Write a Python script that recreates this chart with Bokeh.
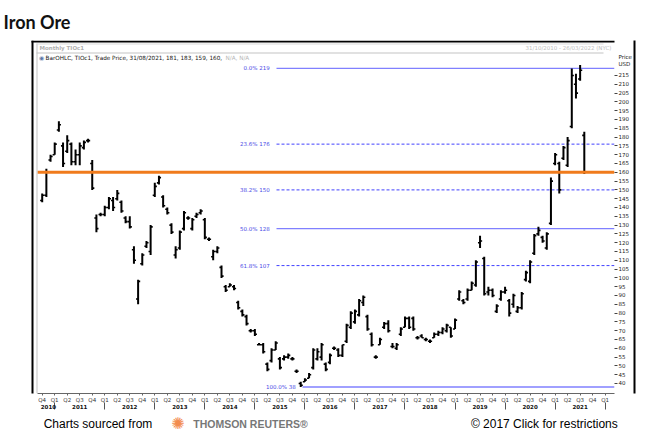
import pandas as pd
from bokeh.plotting import figure
from bokeh.models import Range1d, LinearAxis, FixedTicker, Label, BoxAnnotation, ColumnDataSource
from bokeh.transform import dodge
from bokeh.core.properties import value
from bokeh.embed import file_html
from bokeh.resources import INLINE

# ---------------- data ----------------
first_month = "2010-10"
last_month = "2021-08"
axis_last_month = "2022-01"

opens = [144, 147, 167, 170, 184, 175, 172, 176, 166, 170,
         174, 178, 165, 134, 136, 136, 140, 144, 145, 143,
         134, 132, 116, 88, 108, 118, 115, 147, 154, 146,
         139, 130, 113, 117, 128, 134, 128, 135, 137, 133,
         122, 112, 115, 106, 95, 95, 95, 86, 81, 78,
         70, 70, 62, 62, 51, 53, 59, 54, 54, 55,
         54, 47, 40, 41, 43, 49, 54, 55, 51, 52,
         60, 59, 56, 64, 72, 75, 79, 86, 78, 68,
         55, 62, 72, 74, 61, 60, 68, 72, 77, 77,
         66, 67, 65, 64, 66, 68, 69, 70, 72, 71,
         88, 87, 88, 93, 96, 120, 111, 92, 93, 81,
         88, 92, 87, 85, 81, 83, 99, 98, 114, 125,
         123, 117, 131, 165, 165, 168, 164, 186, 210, 213,
         181]
highs = [148, 162, 170, 177, 189, 177, 181, 177, 173, 177,
         178, 179, 167, 136, 137, 141, 146, 146, 150, 144,
         135, 135, 118, 99, 114, 121, 130, 154, 158, 147,
         140, 131, 118, 127, 138, 135, 134, 137, 139, 134,
         123, 116, 118, 107, 96, 97, 96, 87, 82, 79,
         71, 71, 63, 63, 52, 60, 64, 55, 56, 57,
         55, 48, 41, 43, 46, 60, 60, 63, 52, 57,
         61, 60, 62, 74, 81, 82, 88, 90, 79, 69,
         56, 66, 75, 76, 63, 63, 72, 78, 78, 78,
         67, 68, 66, 65, 69, 70, 72, 74, 72, 77,
         93, 88, 94, 98, 110, 124, 112, 95, 94, 85,
         93, 95, 88, 91, 84, 92, 104, 110, 125, 129,
         124, 126, 157, 171, 166, 175, 180, 219, 216, 221,
         183]
lows = [143, 146, 166, 170, 183, 163, 171, 164, 164, 164,
        173, 177, 150, 126, 135, 135, 139, 138, 144, 137,
        131, 128, 108, 85, 107, 117, 113, 146, 153, 140,
        136, 125, 111, 116, 127, 133, 127, 134, 136, 122,
        121, 110, 114, 100, 92, 95, 93, 82, 78, 73,
        69, 67, 62, 57, 47, 52, 59, 48, 53, 54,
        53, 46, 38, 41, 43, 48, 53, 53, 47, 51,
        59, 55, 55, 63, 71, 74, 78, 84, 70, 61,
        54, 62, 71, 69, 60, 59, 67, 72, 71, 70,
        65, 66, 64, 63, 66, 67, 68, 69, 66, 71,
        87, 85, 87, 93, 95, 117, 90, 90, 89, 80,
        87, 91, 78, 83, 80, 82, 98, 97, 113, 124,
        120, 116, 130, 164, 148, 167, 163, 185, 202, 212,
        159]
closes = [147, 160, 169, 176, 187, 165, 178, 166, 170, 175,
          177, 178, 151, 128, 136, 140, 145, 140, 148, 138,
          132, 129, 110, 98, 113, 120, 129, 152, 157, 141,
          137, 126, 116, 126, 137, 134, 133, 136, 138, 123,
          122, 115, 117, 101, 93, 96, 94, 83, 79, 74,
          70, 68, 62, 58, 48, 59, 63, 49, 55, 56,
          54, 47, 39, 42, 45, 59, 58, 62, 48, 56,
          60, 56, 62, 73, 80, 81, 87, 89, 71, 62,
          55, 65, 74, 70, 61, 62, 71, 77, 72, 71,
          66, 66, 65, 64, 68, 69, 71, 73, 67, 76,
          92, 86, 93, 97, 109, 121, 91, 93, 90, 84,
          92, 93, 80, 90, 83, 91, 103, 109, 124, 127,
          121, 125, 155, 170, 150, 174, 178, 215, 205, 218,
          160]

fib_pct = ["0.0%", "23.6%", "38.2%", "50.0%", "61.8%", "100.0%"]
fib_levels = [219, 176, 150, 128, 107, 38]
fib_dashed = [False, True, True, False, True, False]
last_price = 160
y_tick_values = list(range(40, 220, 5))

title_text = "Iron Ore"
series_text = "Monthly TIOc1"
range_text = "31/10/2010 - 26/03/2022 (NYC)"
legend_text = "BarOHLC, TIOc1, Trade Price, 31/08/2021, 181, 183, 159, 160,"
legend_na = "N/A, N/A"
price_unit = ["Price", "USD"]
footer_left = "Charts sourced from"
footer_brand = "THOMSON REUTERS\u00ae"
footer_right = "\u00a9 2017  Click for restrictions"

# ---------------- derived axis info ----------------
months = pd.period_range(first_month, last_month, freq="M")
idx = list(range(len(months)))
axis_months = pd.period_range(first_month, axis_last_month, freq="M")
q_ticks = [i for i, m in enumerate(axis_months) if m.month in (1, 4, 7, 10)]
q_labels = {i: "Q%d" % ((axis_months[i].month - 1) // 3 + 1) for i in q_ticks}
jan_ticks = [i for i, m in enumerate(axis_months) if m.month == 1]
years = sorted(set(m.year for m in axis_months if m.year < axis_months[-1].year))
bounds = [0] + jan_ticks
year_centers = [(bounds[k] + bounds[k + 1]) / 2 for k in range(len(years))]
year_labels = {c: str(y) for c, y in zip(year_centers, years)}

# ---------------- layout geometry (pixels) ----------------
W, H = 645, 439
FRAME_TOP, FRAME_RIGHT, FRAME_BOTTOM = 40, 614, 393
PX0, PX_PER_MONTH = 41.7, 4.17           # x pixel of first bar, pixels per month
PY215, PX_PER_UNIT = 75.0, 1.76           # y pixel of price 215, pixels per USD


def px2i(px):
    return round((px - PX0) / PX_PER_MONTH, 3)


def py2v(py):
    return round(215 - (py - PY215) / PX_PER_UNIT, 3)


X0, X1 = px2i(0), px2i(FRAME_RIGHT)
XL = px2i(37)
p = figure(width=W, height=H, output_backend="svg", toolbar_location=None,
           x_range=Range1d(X0, X1), y_range=Range1d(py2v(FRAME_BOTTOM), py2v(FRAME_TOP)),
           y_axis_location="right",
           min_border_left=0, min_border_right=W - FRAME_RIGHT,
           min_border_top=FRAME_TOP, min_border_bottom=H - FRAME_BOTTOM)
p.grid.visible = False
p.outline_line_color = None
p.background_fill_color = "white"
p.border_fill_color = "white"

p.title.text = title_text
p.title.text_font = "Lato"
p.title.text_font_style = "bold"
p.title.text_font_size = "18px"
p.title.text_color = "#111111"
p.title.align = "left"
p.title.offset = 3
p.title.standoff = 15

TICK_FONT = "DejaVu Sans"

# right price axis: labels on major ticks, tick marks drawn as minor ticks
price_ticks = [py2v(56), py2v(64)]
ya = p.yaxis[0]
ya.axis_label = None
ya.ticker = FixedTicker(ticks=y_tick_values + price_ticks, minor_ticks=y_tick_values)
ya.major_label_overrides = {t: s for t, s in zip(price_ticks, price_unit)}
ya.axis_line_color = None
ya.major_tick_in = 0
ya.major_tick_out = 3
ya.major_tick_line_color = None
ya.minor_tick_in = 0
ya.minor_tick_out = 3
ya.minor_tick_line_color = "#444"
ya.major_label_standoff = 1
ya.major_label_text_font = TICK_FONT
ya.major_label_text_font_size = "5.5px"
ya.major_label_text_color = "#222"

# right panel border
border_axis = LinearAxis(ticker=FixedTicker(ticks=[]), axis_line_color="black", axis_line_width=2,
                         major_tick_line_color=None, minor_tick_line_color=None,
                         major_label_standoff=0)
p.add_layout(border_axis, "right")

xa = p.xaxis[0]
xa.axis_label = None
xa.bounds = (XL, X1)
xa.ticker = FixedTicker(ticks=q_ticks)
xa.major_label_overrides = q_labels
xa.axis_line_color = "#666"
xa.major_tick_in = 0
xa.major_tick_out = 2
xa.major_tick_line_color = "#666"
xa.minor_tick_line_color = None
xa.major_label_standoff = 1
xa.major_label_text_font = TICK_FONT
xa.major_label_text_font_size = "5.5px"
xa.major_label_text_color = "#333"

yr = LinearAxis(ticker=FixedTicker(ticks=year_centers, minor_ticks=jan_ticks),
                major_label_overrides=year_labels)
yr.axis_line_color = None
yr.major_tick_line_color = None
yr.major_tick_out = 0
yr.major_tick_in = 0
yr.minor_tick_in = 3
yr.minor_tick_out = 4
yr.minor_tick_line_color = "#555"
yr.major_label_standoff = -6
yr.major_label_text_font = TICK_FONT
yr.major_label_text_font_size = "5.5px"
yr.major_label_text_font_style = "bold"
yr.major_label_text_color = "#111"
p.add_layout(yr, "below")


def footer_axis(ticks, labels, font, size, color, style, standoff):
    ax = LinearAxis(ticker=FixedTicker(ticks=ticks),
                    major_label_overrides={t: s for t, s in zip(ticks, labels)})
    ax.axis_line_color = None
    ax.major_tick_line_color = None
    ax.minor_tick_line_color = None
    ax.major_tick_out = 0
    ax.major_tick_in = 0
    ax.minor_tick_out = 0
    ax.minor_tick_in = 0
    ax.major_label_standoff = standoff
    ax.major_label_text_font = font
    ax.major_label_text_font_size = size
    ax.major_label_text_color = color
    ax.major_label_text_font_style = style
    p.add_layout(ax, "below")


footer_axis([px2i(97.5), px2i(545.5)], [footer_left, footer_right],
            "Liberation Sans", "12px", "#000000", "normal", 5)
footer_axis([px2i(250)], [footer_brand], "Liberation Sans", "10.5px", "#777777", "bold", -16)
footer_axis([px2i(177.5)], ["\u273a"], "DejaVu Sans", "16px", "#f28c4e", "normal", -20)

# ---------------- fib lines ----------------
FIB_X0 = px2i(276)
FIB_X0_LOW = px2i(302)
low_level = min(fib_levels)
for lvl, dashed in zip(fib_levels, fib_dashed):
    x0 = FIB_X0_LOW if lvl == low_level else FIB_X0
    p.segment(x0=x0, y0=lvl, x1=X1, y1=lvl,
              line_color="#4040ff" if dashed else "#8080ff",
              line_width=1 if dashed else 1.3,
              line_dash="3 2" if dashed else "solid")
fib_src = ColumnDataSource(dict(
    x=[(FIB_X0_LOW if l == low_level else FIB_X0) - 0.8 for l in fib_levels],
    y=fib_levels,
    t=["%s   %d" % (pc, l) for pc, l in zip(fib_pct, fib_levels)]))
p.text(x="x", y="y", text="t", source=fib_src, text_align="right", text_baseline="middle",
       text_font=value(TICK_FONT), text_font_size="5.5px", text_color="#4b4be6")

# ---------------- OHLC bars ----------------
src = ColumnDataSource(dict(x=idx, o=opens, h=highs, l=lows, c=closes))
p.segment(x0="x", y0="l", x1="x", y1="h", source=src, line_color="black", line_width=2)
p.segment(x0=dodge("x", -0.5), y0="o", x1="x", y1="o", source=src, line_color="black", line_width=1.6)
p.segment(x0="x", y0="c", x1=dodge("x", 0.5), y1="c", source=src, line_color="black", line_width=1.6)

# last-price line
p.segment(x0=XL, y0=last_price, x1=X1, y1=last_price, line_color="#f07b1c", line_width=3)


# ---------------- panel decorations (canvas units, inside frame) ----------------
def box(l, r, t, b, color):
    p.add_layout(BoxAnnotation(left=l, right=r, top=t, bottom=b,
                               left_units="canvas", right_units="canvas",
                               top_units="canvas", bottom_units="canvas",
                               fill_color=color, fill_alpha=1, line_color=None, level="overlay"))


box(31, 33, 40, FRAME_BOTTOM + 2, "black")          # left border
box(31, FRAME_RIGHT + 2, 40, 42, "black")           # top border
box(36, 37, 43, FRAME_BOTTOM, "#c4c4c4")            # inner left line
box(36, 603, 43, 44, "#dcdcdc")                     # header strip top
box(36, 603, 52, 53, "#c4c4c4")                     # header strip bottom


def lab(x, y, text, size, color="#000", style="normal", align="left", baseline="middle",
        font=TICK_FONT):
    p.add_layout(Label(x=x, y=y, x_units="canvas", y_units="canvas", text=text,
                       text_font=font, text_font_size=size, text_color=color,
                       text_font_style=style, text_align=align, text_baseline=baseline))


lab(39, 47.5, series_text, "5.5px", "#b0b0b0", "bold")
lab(611, 47.5, range_text, "5.5px", "#c0c0c0", align="right")
lab(41, 57, "\u25c9", "6px", "#5a78a8", align="center")
lab(45, 57, legend_text, "5.7px", "#111")
lab(225, 57, legend_na, "5.7px", "#b8b8b8")

open("out.html", "w").write(file_html(p, INLINE))
